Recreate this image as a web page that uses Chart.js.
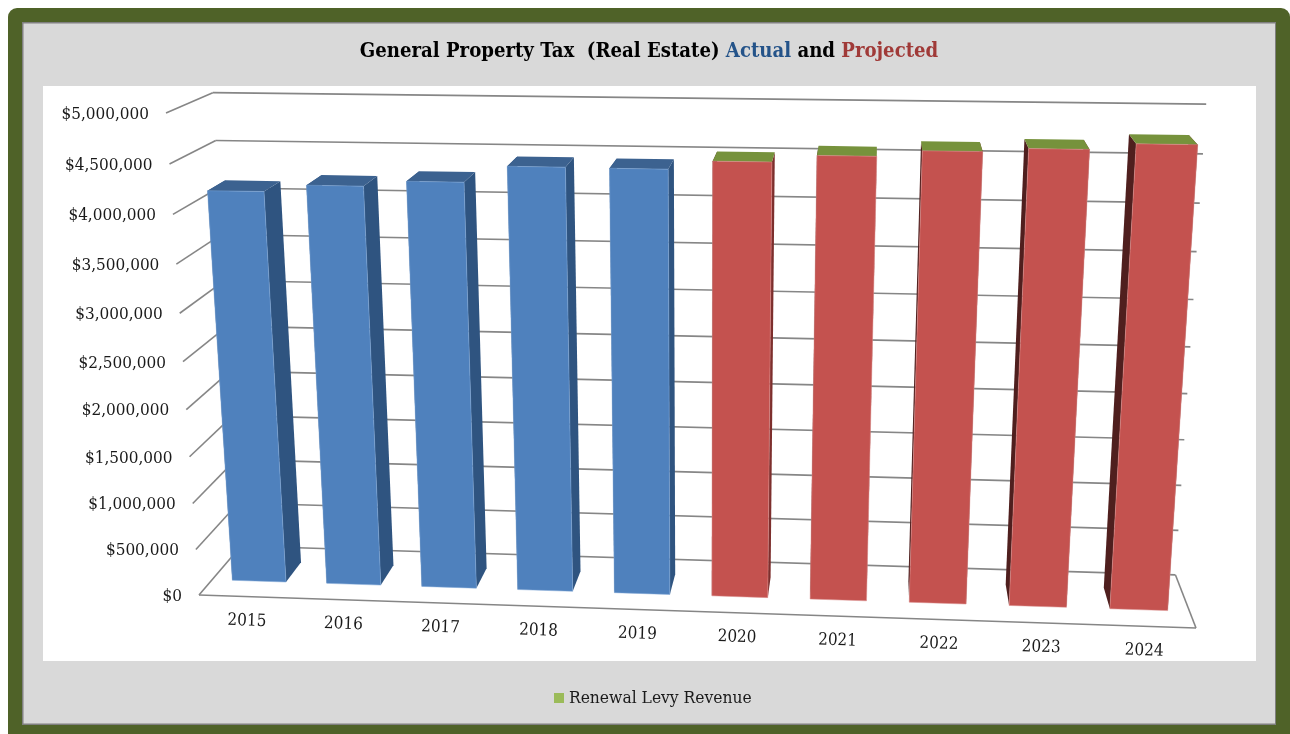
<!DOCTYPE html>
<html>
<head>
<meta charset="utf-8">
<style>html,body{margin:0;padding:0;background:#fff}canvas{display:block}</style>
<script src="https://cdn.jsdelivr.net/npm/chart.js@4"></script>
</head>
<body>
<canvas id="c" width="1290" height="734"></canvas>
<script>
const years = ['2015','2016','2017','2018','2019','2020','2021','2022','2023','2024'];
const actualTax = [4160000,4230000,4285000,4450000,4445000,null,null,null,null,null];
const projectedTax = [null,null,null,null,null,4530000,4600000,4660000,4695000,4755000];
const renewalLevy = [null,null,null,null,null,0,0,0,0,0];

const serif = '"DejaVu Serif Condensed", "Liberation Serif", serif';

// Perspective of the plot box: origin and the far end of each unit edge,
// with a homogeneous weight per axis that sets how fast that edge recedes.
const view = {
  o: [199, 595], ex: [1196, 628], ey: [166, 113], ez: [241, 546],
  kx: 0.959, ky: 0.938, kz: 1.066
};
function project(u, v, w) {
  const {o, ex, ey, ez, kx, ky, kz} = view;
  const d = 1 + u * (kx - 1) + v * (ky - 1) + w * (kz - 1);
  const at = i => (o[i] + u * (kx * ex[i] - o[i]) + v * (ky * ey[i] - o[i]) + w * (kz * ez[i] - o[i])) / d;
  return [at(0), at(1)];
}
const barDepth = [0.3, 0.7];

const faces = {
  actual:    {front: '#4F81BD', top: '#3C6290', left: '#2F5480', right: '#2F5480', edge: '#7FA6D6'},
  projected: {front: '#C4524F', top: '#7A2F2D', left: '#4F1F1E', right: '#7D2F2D', edge: '#DB8F8C'},
  levy:      {front: '#76923C', top: '#76923C', left: '#4F6228', right: '#5F7530', edge: '#76923C'}
};

function poly(ctx, pts, fill) {
  ctx.beginPath();
  pts.forEach((p, i) => i ? ctx.lineTo(p[0], p[1]) : ctx.moveTo(p[0], p[1]));
  ctx.closePath();
  ctx.fillStyle = fill;
  ctx.fill();
}
function line(ctx, a, b) {
  ctx.beginPath();
  ctx.moveTo(a[0], a[1]);
  ctx.lineTo(b[0], b[1]);
  ctx.stroke();
}

const frame = {
  id: 'frame',
  beforeDraw(chart) {
    const ctx = chart.ctx;
    ctx.save();
    ctx.fillStyle = '#fff';
    ctx.fillRect(0, 0, 1290, 734);
    ctx.fillStyle = '#4F6228';
    ctx.beginPath();
    ctx.roundRect(8, 8, 1282, 740, 9);
    ctx.fill();
    ctx.fillStyle = '#7F7F7F';
    ctx.fillRect(22, 22, 1254, 703);
    ctx.fillStyle = '#D9D9D9';
    ctx.fillRect(23.5, 23.5, 1251.5, 700);
    ctx.fillStyle = '#fff';
    ctx.fillRect(43, 86, 1213, 575);
    ctx.restore();
  }
};

const titleParts = [
  ['General Property Tax  (Real Estate) ', '#000000'],
  ['Actual', '#245389'],
  [' and ', '#000000'],
  ['Projected', '#A03A38']
];

const box3d = {
  id: 'box3d',
  beforeDatasetsDraw(chart) {
    const ctx = chart.ctx, area = chart.chartArea;
    const xs = chart.scales.x, ys = chart.scales.y;
    const U = px => (px - area.left) / area.width;
    const V = py => (area.bottom - py) / area.height;
    ctx.save();

    // heading, one run per colour
    ctx.font = 'bold 20.15px ' + serif;
    ctx.textBaseline = 'middle';
    ctx.textAlign = 'left';
    let tw = titleParts.reduce((s, p) => s + ctx.measureText(p[0]).width, 0);
    let tx = 649 - tw / 2;
    titleParts.forEach(p => {
      ctx.fillStyle = p[1];
      ctx.fillText(p[0], tx, 52);
      tx += ctx.measureText(p[0]).width;
    });

    // walls and floor
    ctx.strokeStyle = '#868686';
    ctx.lineWidth = 1.6;
    ys.ticks.forEach(t => {
      const v = V(ys.getPixelForValue(t.value));
      line(ctx, project(0, v, 0), project(0, v, 1));
      line(ctx, project(0, v, 1), project(1, v, 1));
    });
    line(ctx, project(0, 0, 0), project(1, 0, 0));
    line(ctx, project(1, 0, 0), project(1, 0, 1));

    // value labels beside the left wall
    ctx.fillStyle = '#1a1a1a';
    ctx.font = '17px ' + serif;
    ctx.textAlign = 'right';
    ys.ticks.forEach(t => {
      const p = project(0, V(ys.getPixelForValue(t.value)), 0);
      ctx.fillText('$' + t.value.toLocaleString('en-US'), p[0] - 17, p[1] + 1.5);
    });

    // year labels under the floor, tilted with its front edge
    const a = project(0, 0, 0), b = project(1, 0, 0);
    const tilt = Math.atan2(b[1] - a[1], b[0] - a[0]);
    ctx.textAlign = 'center';
    years.forEach((label, i) => {
      const p = project(U(xs.getPixelForValue(i)), 0, 0);
      ctx.save();
      ctx.translate(p[0], p[1] + 24.5);
      ctx.rotate(tilt);
      ctx.fillText(label, 0, 0);
      ctx.restore();
    });

    // columns: hidden sides are painted first so the front covers them
    const keys = ['actual', 'projected', 'levy'];
    years.forEach((_, i) => {
      let topKey = null, topY = null, baseY = null, x0, x1;
      chart.data.datasets.forEach((ds, d) => {
        const val = ds.data[i];
        if (val === null) return;
        const el = chart.getDatasetMeta(d).data[i];
        x0 = U(el.x - el.width / 2);
        x1 = U(el.x + el.width / 2);
        const y0 = V(el.base), y1 = V(el.y);
        if (baseY === null) baseY = y0;
        topY = y1;
        topKey = keys[d];
        if (val === 0) return;
        const f = faces[keys[d]];
        const [zf, zb] = barDepth;
        poly(ctx, [project(x0, y0, zf), project(x0, y1, zf), project(x0, y1, zb), project(x0, y0, zb)], f.left);
        poly(ctx, [project(x1, y0, zf), project(x1, y1, zf), project(x1, y1, zb), project(x1, y0, zb)], f.right);
      });
      const [zf, zb] = barDepth;
      poly(ctx, [project(x0, topY, zf), project(x1, topY, zf), project(x1, topY, zb), project(x0, topY, zb)], faces[topKey].top);
      chart.data.datasets.forEach((ds, d) => {
        if (ds.data[i] === null || ds.data[i] === 0) return;
        const el = chart.getDatasetMeta(d).data[i];
        const y0 = V(el.base), y1 = V(el.y);
        const f = faces[keys[d]];
        const q = [project(x0, y0, zf), project(x1, y0, zf), project(x1, y1, zf), project(x0, y1, zf)];
        poly(ctx, q, f.front);
        ctx.strokeStyle = f.edge;
        ctx.lineWidth = 0.5;
        ctx.stroke();
      });
    });
    ctx.restore();
    return false;
  }
};

// Legend key as a small bitmap, so the label can sit closer than the default gap
const legendKey = document.createElement('canvas');
legendKey.width = legendKey.height = 10;
const keyCtx = legendKey.getContext('2d');
keyCtx.fillStyle = '#9BBB59';
keyCtx.fillRect(0, 0, 10, 10);

new Chart(document.getElementById('c'), {
  type: 'bar',
  data: {
    labels: years,
    datasets: [
      {label: 'Actual', data: actualTax, backgroundColor: faces.actual.front},
      {label: 'Projected', data: projectedTax, backgroundColor: faces.projected.front},
      {label: 'Renewal Levy Revenue', data: renewalLevy, backgroundColor: '#9BBB59'}
    ]
  },
  options: {
    responsive: false,
    animation: false,
    layout: {padding: {left: 63, right: 43, top: 86, bottom: 17}},
    datasets: {bar: {categoryPercentage: 1, barPercentage: 0.57}},
    scales: {
      x: {stacked: true, display: false},
      y: {stacked: true, display: false, min: 0, max: 5000000, ticks: {stepSize: 500000}}
    },
    plugins: {
      tooltip: {enabled: false},
      title: {display: false},
      legend: {
        position: 'bottom',
        labels: {
          usePointStyle: true, pointStyle: legendKey, pointStyleWidth: 2,
          padding: 6, color: '#1a1a1a',
          font: {family: serif, size: 17.3},
          filter: item => item.text === 'Renewal Levy Revenue'
        }
      }
    }
  },
  plugins: [frame, box3d]
});
</script>
</body>
</html>
